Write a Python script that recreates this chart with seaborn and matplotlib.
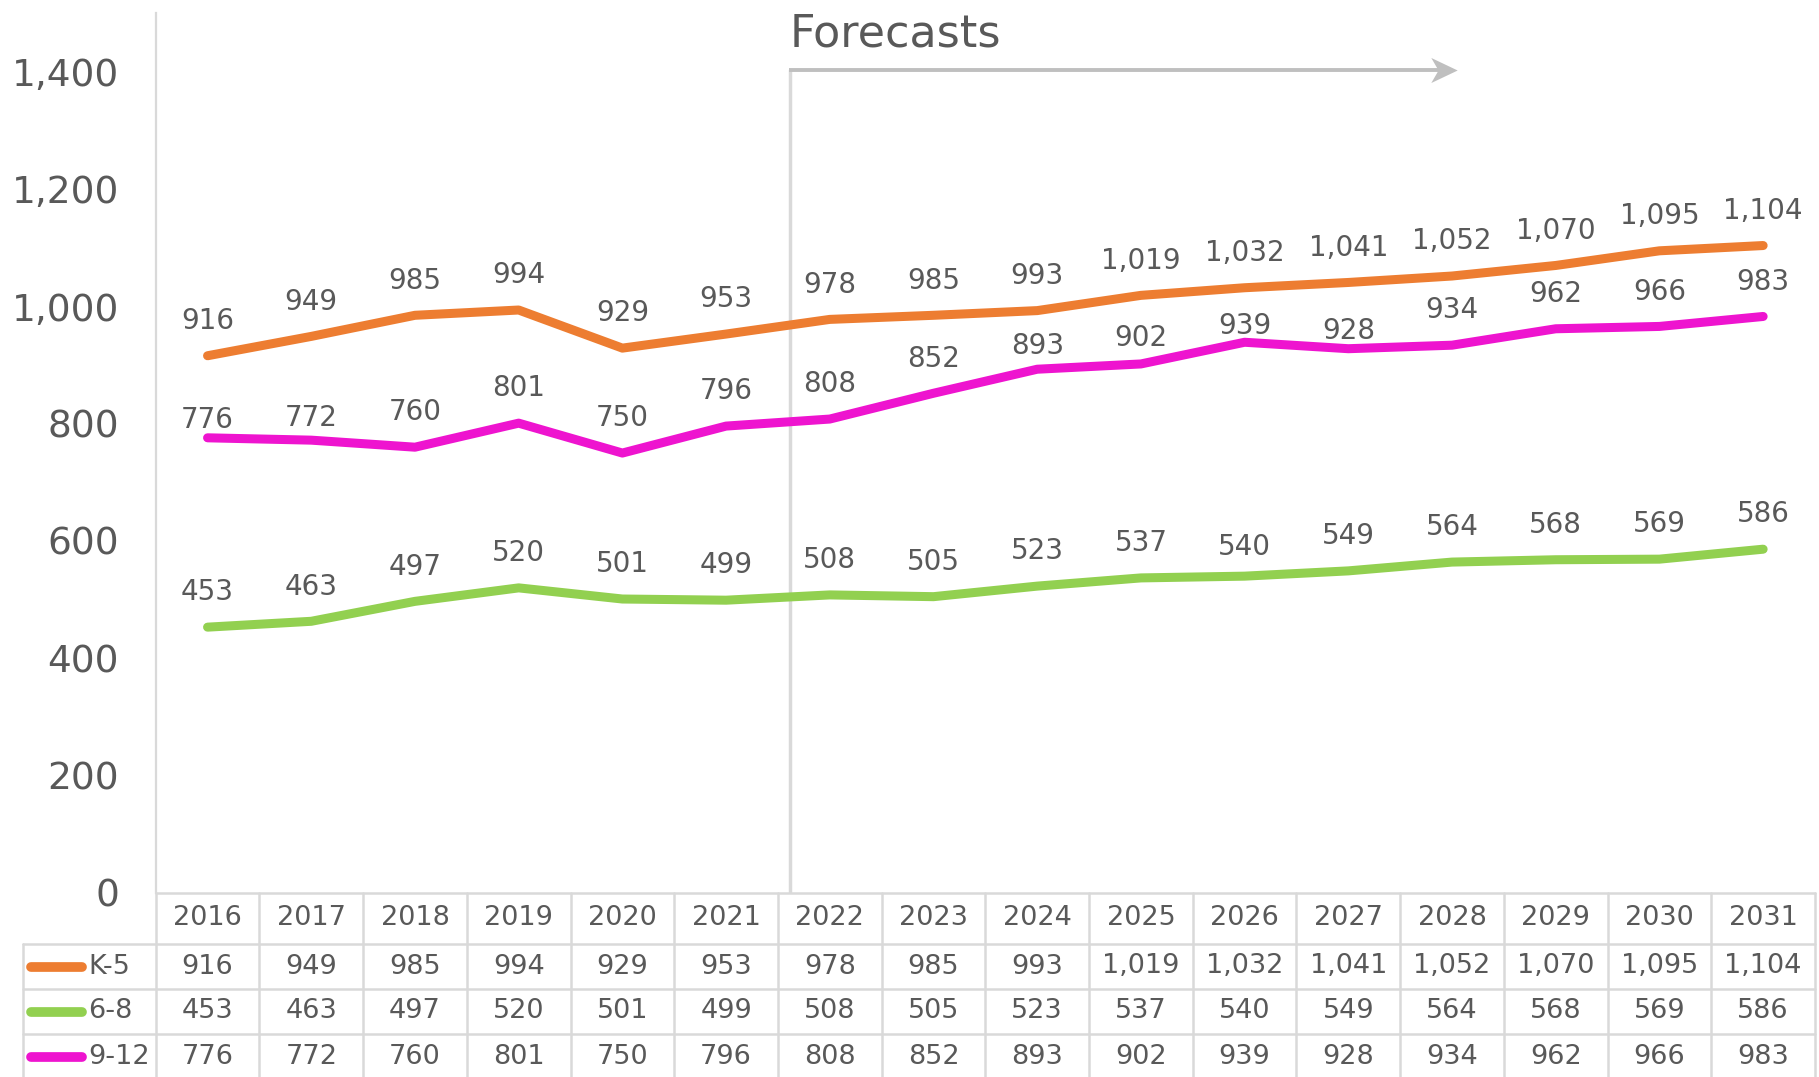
import numpy as np
import pandas as pd
import matplotlib.pyplot as plt
import seaborn as sns
from matplotlib.path import Path

# --- data (enrollment by grade band) ---
years = [2016, 2017, 2018, 2019, 2020, 2021, 2022, 2023,
         2024, 2025, 2026, 2027, 2028, 2029, 2030, 2031]
k5 = [916, 949, 985, 994, 929, 953, 978, 985,
      993, 1019, 1032, 1041, 1052, 1070, 1095, 1104]
g6_8 = [453, 463, 497, 520, 501, 499, 508, 505,
        523, 537, 540, 549, 564, 568, 569, 586]
g9_12 = [776, 772, 760, 801, 750, 796, 808, 852,
         893, 902, 939, 928, 934, 962, 966, 983]
series = ['K-5', '6-8', '9-12']
y_ticks = [0, 200, 400, 600, 800, 1000, 1200, 1400]

palette = {'K-5': '#ED7D31', '6-8': '#92D050', '9-12': '#EE14CF'}
txt = '#595959'
grid = '#D9D9D9'

# label offsets in points; a few labels were nudged down in the original
default_off = 25
label_off = {'9-12': {0: 13, 1: 16, 8: 16.5, 9: 19, 10: 12, 11: 13},
             '6-8': {10: 21}}

values = {'K-5': k5, '6-8': g6_8, '9-12': g9_12}
df = pd.concat([pd.DataFrame({'pos': np.arange(len(years)), 'year': years,
                              'value': values[s], 'grade': s}) for s in series])

sns.set_style('white')
plt.rcParams['font.family'] = ['DejaVu Sans']

W, H = 1819, 1077
fig = plt.figure(figsize=(W / 100, H / 100), dpi=100)
ax_left = 155.7 / W
ax_w = (1815 - 155.7) / W
ax_bot = (H - 892.7) / H
ax = fig.add_axes([ax_left, ax_bot, ax_w, (H - 13.4) / H - ax_bot])

sns.lineplot(data=df, x='pos', y='value', hue='grade', palette=palette,
             hue_order=series, linewidth=6.5, legend=False, ax=ax,
             solid_capstyle='round')

ax.set_xlim(-0.5, 15.5)
ax.set_ylim(0, 1500)
ax.set_yticks(y_ticks)
ax.set_yticklabels([f'{t:,}' for t in y_ticks])
ax.set_xticks([])
ax.set_xlabel('')
ax.set_ylabel('')
for sp in ['top', 'right', 'bottom']:
    ax.spines[sp].set_visible(False)
ax.spines['left'].set_color(grid)
ax.spines['left'].set_linewidth(1.6)
ax.tick_params(axis='y', length=9.5, width=1.6, color=grid,
               labelsize=27, labelcolor=txt, pad=17)

# data labels
for s in series:
    for i, v in enumerate(values[s]):
        off = label_off.get(s, {}).get(i, default_off)
        ax.annotate(f'{v:,}', (i, v), xytext=(0, off), textcoords='offset points',
                    ha='center', va='center', fontsize=20, color=txt)

# forecast marker
fx, fy, ftip = 5.62, 1404, 12.05
ax.plot([fx, fx], [0, fy], color=grid, lw=2.5, zorder=1)
ax.plot([fx - 0.01, ftip - 0.1], [fy, fy], color='#BFBFBF', lw=2.8,
        solid_capstyle='butt', zorder=1)
head = Path([(1, 0), (-1, 0.95), (-0.45, 0), (-1, -0.95), (1, 0)],
            [Path.MOVETO, Path.LINETO, Path.LINETO, Path.LINETO, Path.CLOSEPOLY])
ax.plot([ftip - 0.125], [fy], marker=head, markersize=19, color='#BFBFBF',
        markeredgewidth=0, zorder=1)
ax.text(5.61, 1443, 'Forecasts', fontsize=32, color=txt, va='baseline', ha='left')

# --- data table under the chart ---
tax = fig.add_axes([ax_left, 0, ax_w, ax_bot])
tax.set_xlim(-0.5, 15.5)
tax.set_ylim(184.3, 0)
tax.axis('off')
row_edges = [0, 51.3, 96.3, 141.3, 186.3]
leg_left = -1.782

tax.plot([-0.5, 15.5], [0, 0], color=grid, lw=1.8, clip_on=False)
for r in row_edges[1:4]:
    tax.plot([leg_left, 15.5], [r, r], color=grid, lw=1.8, clip_on=False)
for k in range(17):
    tax.plot([k - 0.5, k - 0.5], [0, row_edges[-1]], color=grid, lw=1.8, clip_on=False)
tax.plot([leg_left, leg_left], [row_edges[1], row_edges[-1]], color=grid, lw=1.8,
         clip_on=False)

for i, y in enumerate(years):
    tax.text(i, (row_edges[0] + row_edges[1]) / 2, str(y), ha='center', va='center',
             fontsize=19.5, color=txt, clip_on=False)

for r, s in enumerate(series):
    yc = (row_edges[r + 1] + row_edges[r + 2]) / 2
    tax.plot([-1.702, -1.21], [yc, yc], color=palette[s], lw=7,
             solid_capstyle='round', clip_on=False)
    tax.text(-1.152, yc, s, ha='left', va='center', fontsize=19.5, color=txt,
             clip_on=False)
    for i, v in enumerate(values[s]):
        tax.text(i, yc, f'{v:,}', ha='center', va='center', fontsize=19.5,
                 color=txt, clip_on=False)

fig.savefig('out.png', dpi=100, facecolor='white')
